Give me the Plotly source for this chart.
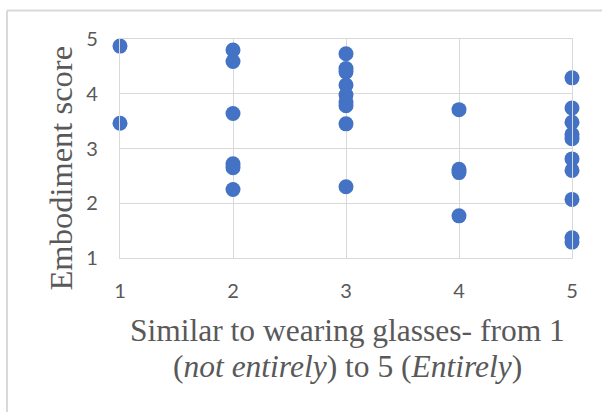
import plotly.graph_objects as go

# Data
x1 = [1, 1]
y1 = [4.87, 3.46]
x2 = [2, 2, 2, 2, 2, 2]
y2 = [4.80, 4.59, 3.64, 2.72, 2.65, 2.25]
x3 = [3, 3, 3, 3, 3, 3, 3, 3, 3]
y3 = [4.73, 4.46, 4.40, 4.16, 3.98, 3.85, 3.78, 3.45, 2.30]
x4 = [4, 4, 4, 4]
y4 = [3.71, 2.62, 2.56, 1.77]
x5 = [5, 5, 5, 5, 5, 5, 5, 5, 5, 5]
y5 = [4.29, 3.74, 3.48, 3.26, 3.18, 2.81, 2.60, 2.07, 1.37, 1.29]

xs = x1 + x2 + x3 + x4 + x5
ys = y1 + y2 + y3 + y4 + y5

x_ticks = [1, 2, 3, 4, 5]
y_ticks = [1, 2, 3, 4, 5]

x_title_1 = "Similar to wearing glasses- from 1"
x_title_2 = "(<i>not entirely</i>) to 5 (<i>Entirely</i>)"
y_title = "Embodiment score"

W, H = 602, 412
L, R, T, B = 120, 30, 39, 154
PW = W - L - R
PH = H - T - B


def px_x(p):
    return (p - L) / PW


def px_y(p):
    return (H - B - p) / PH


grid = "#d9d9d9"
txt = "#595959"

fig = go.Figure()
fig.add_trace(go.Scatter(
    x=xs, y=ys, mode="markers",
    marker=dict(size=15, color="#4472C4", line=dict(width=0)),
    cliponaxis=False, showlegend=False,
))

axis_common = dict(
    showgrid=True, gridcolor=grid, gridwidth=1.3,
    showline=True, linecolor=grid, linewidth=1.3, mirror=True,
    zeroline=False, ticks="",
    tickfont=dict(family="Lato", size=20, color=txt),
)

fig.update_xaxes(range=[1, 5], tickvals=x_ticks, ticklabelstandoff=15, **axis_common)
fig.update_yaxes(range=[1, 5], tickvals=y_ticks, ticklabelstandoff=17, **axis_common)

serif = "Liberation Serif"
fig.add_annotation(text=x_title_1, xref="paper", yref="paper",
                   x=px_x(347), y=px_y(330), xanchor="center", yanchor="middle",
                   showarrow=False, font=dict(family=serif, size=31.5, color=txt))
fig.add_annotation(text=x_title_2, xref="paper", yref="paper",
                   x=px_x(347.5), y=px_y(366), xanchor="center", yanchor="middle",
                   showarrow=False, font=dict(family=serif, size=31.5, color=txt))
fig.add_annotation(text=y_title, xref="paper", yref="paper",
                   x=px_x(60), y=px_y(168.5), xanchor="center", yanchor="middle",
                   textangle=-90, showarrow=False,
                   font=dict(family=serif, size=32.5, color=txt))

# chart area border (only left and top edges fall inside the frame)
fig.add_shape(type="line", xref="paper", yref="paper",
              x0=px_x(7), x1=px_x(7), y0=px_y(412), y1=px_y(10.5),
              line=dict(color=grid, width=2))
fig.add_shape(type="line", xref="paper", yref="paper",
              x0=px_x(7), x1=px_x(602), y0=px_y(10.5), y1=px_y(10.5),
              line=dict(color=grid, width=2))

fig.update_layout(
    width=W, height=H,
    margin=dict(l=L, r=R, t=T, b=B, pad=0),
    paper_bgcolor="white", plot_bgcolor="white",
)

fig.write_html("out.html", config={"displayModeBar": False},
               post_script="document.body.style.margin='0';")
